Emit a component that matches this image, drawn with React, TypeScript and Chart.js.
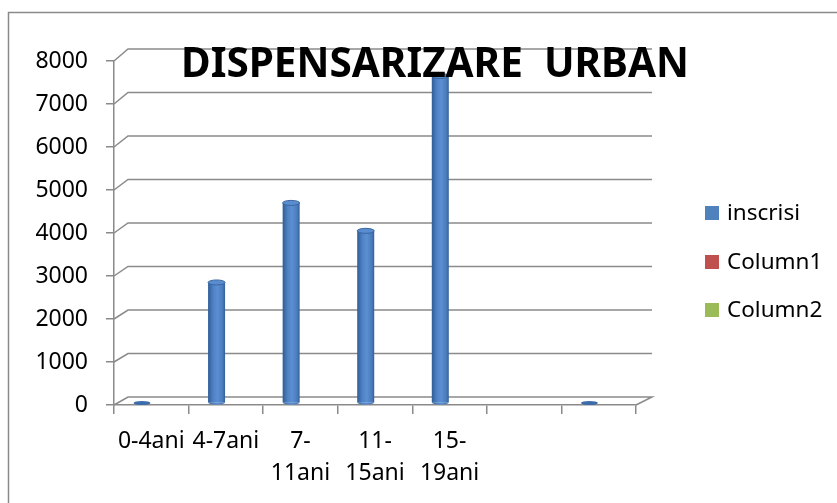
import React, { useEffect, useRef } from "react";
import { Chart, registerables } from "chart.js";

Chart.register(...registerables);

const TITLE = "DISPENSARIZARE  URBAN";
const categories: (string | string[])[] = ["0-4ani", "4-7ani", ["7-", "11ani"], ["11-", "15ani"], ["15-", "19ani"], "", ""];
const inscrisi: (number | null)[] = [0, 2850, 4700, 4050, 7650, null, 0];
const column1: (number | null)[] = [];
const column2: (number | null)[] = [];
const seriesNames = ["inscrisi", "Column1", "Column2"];
const seriesColors = ["#4f81bd", "#c0504d", "#9bbb59"];
const yMax = 8000;
const yStep = 1000;

const FONT = "'Noto Sans', 'Open Sans', sans-serif";
const GRID = "#8a8a8a";

const toPoints = (arr: (number | null)[]) =>
  arr.map((v, i) => (v === null ? null : { x: i, y: v })).filter((p) => p !== null);

const decorPlugin = {
  id: "decor",
  beforeDraw(chart: any) {
    const ctx = chart.ctx;
    ctx.save();
    ctx.fillStyle = "#ffffff";
    ctx.fillRect(0, 0, chart.width, chart.height);
    ctx.strokeStyle = GRID;
    ctx.lineWidth = 1.5;
    ctx.strokeRect(8.5, 12.5, 1000, 1000);
    ctx.restore();
  },
  beforeDatasetsDraw(chart: any) {
    const ctx = chart.ctx;
    const y = chart.scales.y;
    const area = chart.chartArea;
    ctx.save();
    ctx.strokeStyle = GRID;
    ctx.lineWidth = 1.5;
    for (let v = 0; v <= yMax; v += yStep) {
      const yF = y.getPixelForValue(v);
      const yB = yF - (8 + (4 * v) / yMax);
      ctx.beginPath();
      ctx.moveTo(area.left, yF);
      ctx.lineTo(area.left + 14, yB);
      ctx.lineTo(area.right + 16, yB);
      if (v === 0) ctx.lineTo(area.right, yF);
      ctx.stroke();
    }
    ctx.restore();
  },
  afterDatasetsDraw(chart: any) {
    const ctx = chart.ctx;
    const meta = chart.getDatasetMeta(0);
    ctx.save();
    meta.data.forEach((el: any) => {
      const { x, y, base, width } = el.getProps(["x", "y", "base", "width"], true);
      const w = width;
      const left = x - w / 2;
      const h = base - y;
      if (h < 1) {
        ctx.fillStyle = "#3c6cab";
        ctx.beginPath();
        ctx.ellipse(x, base - 2, w / 2, 2, 0, 0, Math.PI * 2);
        ctx.fill();
        return;
      }
      const g = ctx.createLinearGradient(left, 0, left + w, 0);
      g.addColorStop(0, "#2f5c96");
      g.addColorStop(0.3, "#4f82c4");
      g.addColorStop(0.55, "#5b8fd3");
      g.addColorStop(0.85, "#4a7cbc");
      g.addColorStop(1, "#335f98");
      ctx.fillStyle = g;
      ctx.fillRect(left, y, w, h - 2);
      ctx.beginPath();
      ctx.ellipse(x, base - 2, w / 2, 2.5, 0, 0, Math.PI);
      ctx.fill();
      ctx.fillStyle = "#5a8dd0";
      ctx.strokeStyle = "#3a66a0";
      ctx.lineWidth = 1;
      ctx.beginPath();
      ctx.ellipse(x, y, w / 2, 2.5, 0, 0, Math.PI * 2);
      ctx.fill();
      ctx.stroke();
    });
    // title
    ctx.fillStyle = "#000000";
    ctx.font = `bold 40.5px ${FONT}`;
    ctx.textAlign = "center";
    ctx.textBaseline = "middle";
    ctx.fillText(TITLE, 435, 65);
    // legend
    ctx.font = `22.5px ${FONT}`;
    ctx.textAlign = "left";
    const ys = [213, 262, 310];
    seriesNames.forEach((name, i) => {
      ctx.fillStyle = seriesColors[i];
      ctx.fillRect(705, ys[i] - 7, 14, 14);
      ctx.fillStyle = "#000000";
      ctx.fillText(name, 727, ys[i] + 1);
    });
    ctx.restore();
  },
};

export default function App() {
  const ref = useRef<HTMLCanvasElement | null>(null);
  useEffect(() => {
    if (!ref.current) return;
    const chart = new Chart(ref.current, {
      type: "bar",
      data: {
        labels: categories as any,
        datasets: [
          { label: seriesNames[0], data: toPoints(inscrisi) as any, backgroundColor: "rgba(0,0,0,0)", xAxisID: "xb", yAxisID: "y", barThickness: 17, grouped: false },
          { label: seriesNames[1], data: toPoints(column1) as any, backgroundColor: seriesColors[1], xAxisID: "xb", yAxisID: "y", barThickness: 17, grouped: false },
          { label: seriesNames[2], data: toPoints(column2) as any, backgroundColor: seriesColors[2], xAxisID: "xb", yAxisID: "y", barThickness: 17, grouped: false },
        ],
      },
      options: {
        responsive: false,
        animation: false,
        devicePixelRatio: 1,
        layout: { padding: { left: 0, right: 201, top: 61, bottom: 0 } },
        plugins: { legend: { display: false }, title: { display: false }, tooltip: { enabled: false } },
        scales: {
          x: {
            type: "category",
            offset: true,
            grid: { offset: true, drawOnChartArea: false, drawTicks: true, tickLength: 9, color: GRID, lineWidth: 1.5 },
            border: { display: true, color: GRID, width: 1.5 },
            ticks: { color: "#000", font: { family: FONT, size: 23, lineHeight: 1.38 }, padding: 12, maxRotation: 0, autoSkip: false },
            afterFit: (s: any) => { s.height = 98; },
          },
          xb: {
            type: "linear",
            display: false,
            offset: false,
            min: -0.3755,
            max: 6.6245,
          },
          y: {
            min: 0,
            max: yMax,
            ticks: { stepSize: yStep, color: "#000", font: { family: FONT, size: 23 }, padding: 18, callback: (v: any) => String(v) },
            grid: { drawOnChartArea: false, drawTicks: true, tickLength: 8, color: GRID, lineWidth: 1.5 },
            border: { display: true, color: GRID, width: 1.5 },
            afterFit: (s: any) => { s.width = 114; },
          },
        },
      } as any,
      plugins: [decorPlugin],
    });
    return () => chart.destroy();
  }, []);
  return (
    <div style={{ position: "fixed", left: 0, top: 0, width: 837, height: 503 }}>
      <canvas ref={ref} width={837} height={503} style={{ display: "block" }} />
    </div>
  );
}
